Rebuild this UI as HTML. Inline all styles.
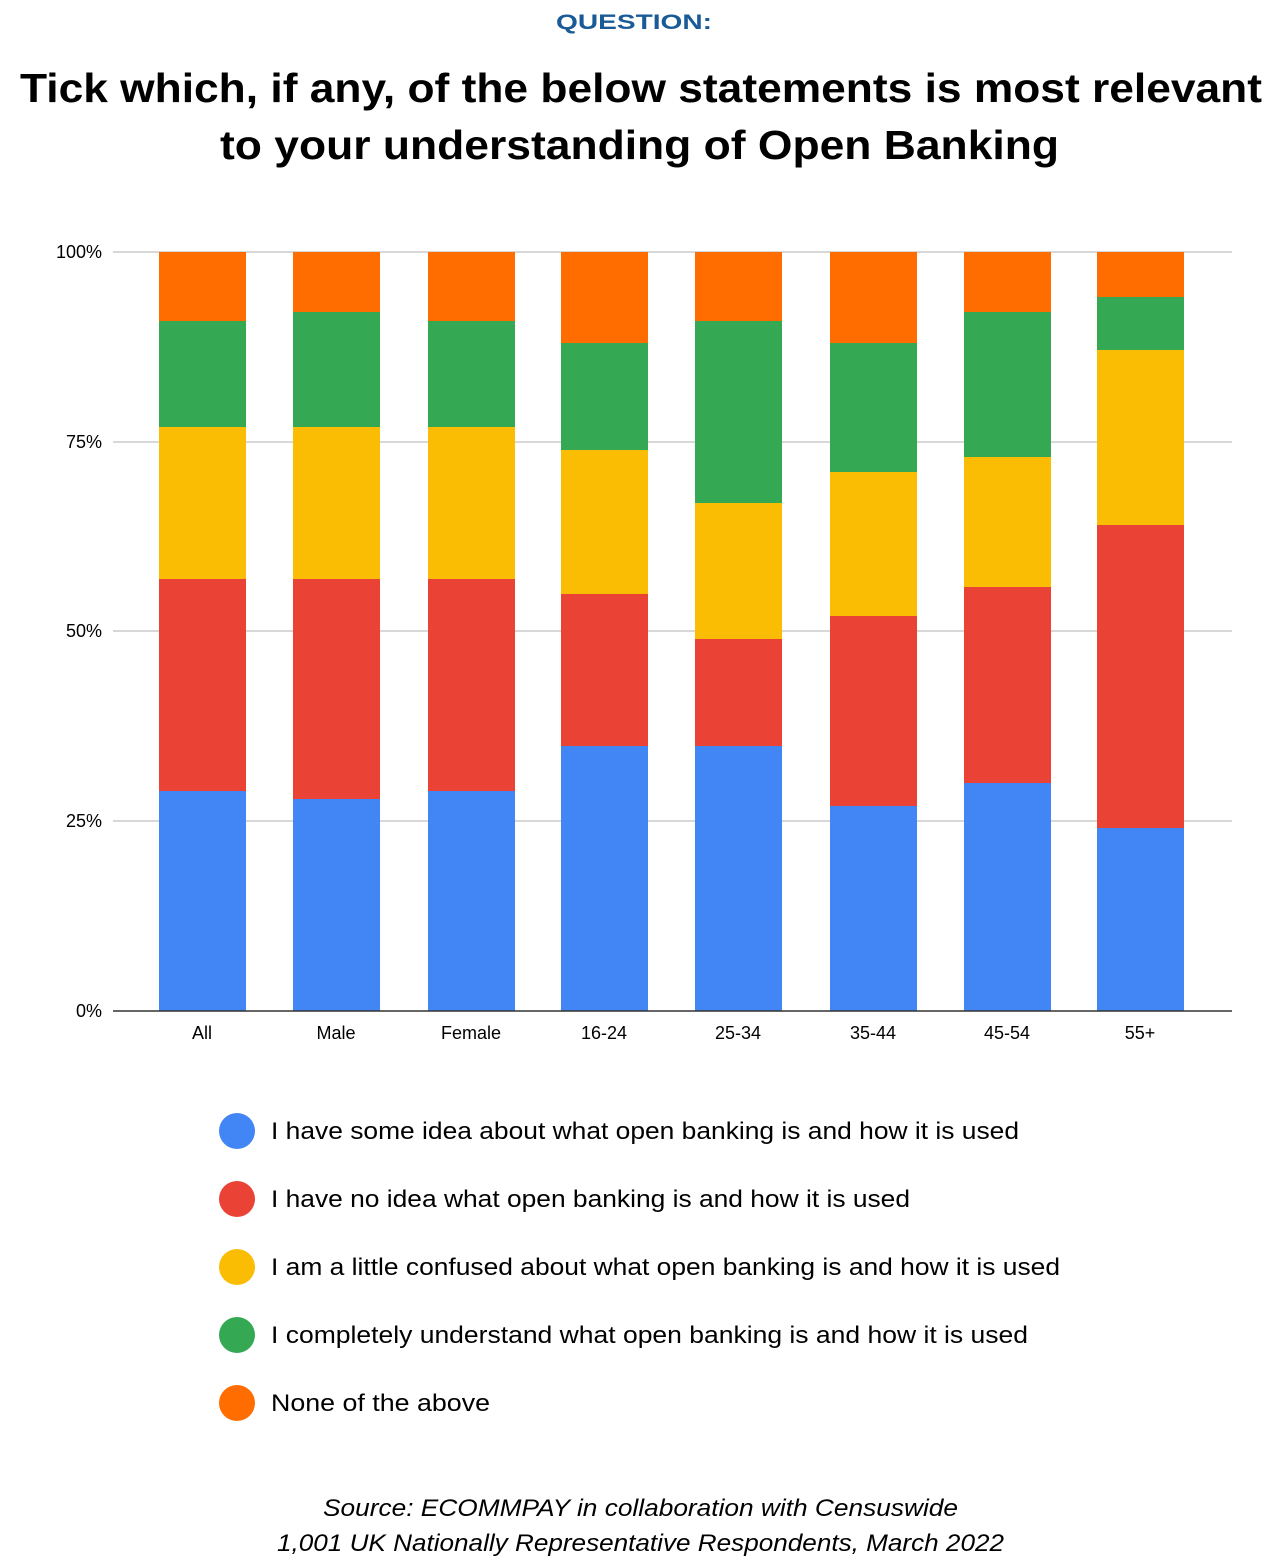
<!DOCTYPE html>
<html><head><meta charset="utf-8"><style>
html,body{margin:0;padding:0;background:#fff;width:1280px;height:1560px;overflow:hidden}
</style></head><body>
<svg width="1280" height="1560" xmlns="http://www.w3.org/2000/svg" font-family="Liberation Sans, Arial, sans-serif">
<text x="556" y="29" font-size="21" font-weight="bold" fill="#1a5a96" textLength="156" lengthAdjust="spacingAndGlyphs">QUESTION:</text>
<text x="20" y="102" font-size="41" font-weight="bold" fill="#000" textLength="1242" lengthAdjust="spacingAndGlyphs">Tick which, if any, of the below statements is most relevant</text>
<text x="220" y="159" font-size="41" font-weight="bold" fill="#000" textLength="839" lengthAdjust="spacingAndGlyphs">to your understanding of Open Banking</text>
<g stroke="#ccc" stroke-width="1.5">
<line x1="113" x2="1232" y1="252" y2="252"/><line x1="113" x2="1232" y1="442" y2="442"/>
<line x1="113" x2="1232" y1="631" y2="631"/><line x1="113" x2="1232" y1="821" y2="821"/>
</g>
<g font-size="18" fill="#000" text-anchor="end">
<text x="102" y="258">100%</text><text x="102" y="448">75%</text><text x="102" y="637">50%</text><text x="102" y="827">25%</text><text x="102" y="1017">0%</text>
</g>
<g>
<rect x="159" y="791" width="87" height="220" fill="#4285f4"/><rect x="159" y="579" width="87" height="212" fill="#ea4335"/><rect x="159" y="427" width="87" height="152" fill="#fbbc04"/><rect x="159" y="321" width="87" height="106" fill="#34a853"/><rect x="159" y="252" width="87" height="69" fill="#ff6d01"/>
<rect x="293" y="799" width="87" height="212" fill="#4285f4"/><rect x="293" y="579" width="87" height="220" fill="#ea4335"/><rect x="293" y="427" width="87" height="152" fill="#fbbc04"/><rect x="293" y="312" width="87" height="115" fill="#34a853"/><rect x="293" y="252" width="87" height="60" fill="#ff6d01"/>
<rect x="428" y="791" width="87" height="220" fill="#4285f4"/><rect x="428" y="579" width="87" height="212" fill="#ea4335"/><rect x="428" y="427" width="87" height="152" fill="#fbbc04"/><rect x="428" y="321" width="87" height="106" fill="#34a853"/><rect x="428" y="252" width="87" height="69" fill="#ff6d01"/>
<rect x="561" y="746" width="87" height="265" fill="#4285f4"/><rect x="561" y="594" width="87" height="152" fill="#ea4335"/><rect x="561" y="450" width="87" height="144" fill="#fbbc04"/><rect x="561" y="343" width="87" height="107" fill="#34a853"/><rect x="561" y="252" width="87" height="91" fill="#ff6d01"/>
<rect x="695" y="746" width="87" height="265" fill="#4285f4"/><rect x="695" y="639" width="87" height="107" fill="#ea4335"/><rect x="695" y="503" width="87" height="136" fill="#fbbc04"/><rect x="695" y="321" width="87" height="182" fill="#34a853"/><rect x="695" y="252" width="87" height="69" fill="#ff6d01"/>
<rect x="830" y="806" width="87" height="205" fill="#4285f4"/><rect x="830" y="616" width="87" height="190" fill="#ea4335"/><rect x="830" y="472" width="87" height="144" fill="#fbbc04"/><rect x="830" y="343" width="87" height="129" fill="#34a853"/><rect x="830" y="252" width="87" height="91" fill="#ff6d01"/>
<rect x="964" y="783" width="87" height="228" fill="#4285f4"/><rect x="964" y="587" width="87" height="196" fill="#ea4335"/><rect x="964" y="457" width="87" height="130" fill="#fbbc04"/><rect x="964" y="312" width="87" height="145" fill="#34a853"/><rect x="964" y="252" width="87" height="60" fill="#ff6d01"/>
<rect x="1097" y="828" width="87" height="183" fill="#4285f4"/><rect x="1097" y="525" width="87" height="303" fill="#ea4335"/><rect x="1097" y="350" width="87" height="175" fill="#fbbc04"/><rect x="1097" y="297" width="87" height="53" fill="#34a853"/><rect x="1097" y="252" width="87" height="45" fill="#ff6d01"/>
</g>
<line x1="113" x2="1232" y1="1011" y2="1011" stroke="#333" stroke-width="1.5"/>
<g font-size="18" fill="#000" text-anchor="middle">
<text x="202" y="1039">All</text><text x="336" y="1039">Male</text><text x="471" y="1039">Female</text><text x="604" y="1039">16-24</text><text x="738" y="1039">25-34</text><text x="873" y="1039">35-44</text><text x="1007" y="1039">45-54</text><text x="1140" y="1039">55+</text>
</g>
<g font-size="24" fill="#000">
<circle cx="237" cy="1131" r="18" fill="#4285f4"/><text x="271" y="1139" textLength="748" lengthAdjust="spacingAndGlyphs">I have some idea about what open banking is and how it is used</text>
<circle cx="237" cy="1199" r="18" fill="#ea4335"/><text x="271" y="1207" textLength="639" lengthAdjust="spacingAndGlyphs">I have no idea what open banking is and how it is used</text>
<circle cx="237" cy="1267" r="18" fill="#fbbc04"/><text x="271" y="1275" textLength="789" lengthAdjust="spacingAndGlyphs">I am a little confused about what open banking is and how it is used</text>
<circle cx="237" cy="1335" r="18" fill="#34a853"/><text x="271" y="1343" textLength="757" lengthAdjust="spacingAndGlyphs">I completely understand what open banking is and how it is used</text>
<circle cx="237" cy="1403" r="18" fill="#ff6d01"/><text x="271" y="1411" textLength="219" lengthAdjust="spacingAndGlyphs">None of the above</text>
</g>
<g font-size="24" font-style="italic" fill="#000">
<text x="323" y="1516" textLength="635" lengthAdjust="spacingAndGlyphs">Source: ECOMMPAY in collaboration with Censuswide</text>
<text x="277" y="1551" textLength="727" lengthAdjust="spacingAndGlyphs">1,001 UK Nationally Representative Respondents, March 2022</text>
</g>
</svg>
</body></html>
